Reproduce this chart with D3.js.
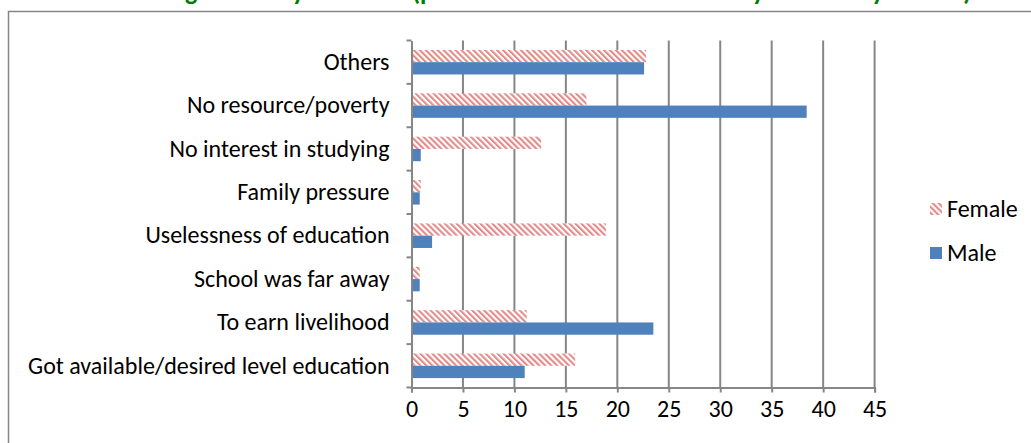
<!DOCTYPE html>
<html>
<head>
<meta charset="utf-8">
<script src="https://cdn.jsdelivr.net/npm/d3@7"></script>
<style>
  html, body { margin: 0; padding: 0; background: #fff; overflow: hidden; }
  svg { display: block; }
  text { font-family: Carlito, Calibri, Lato, "Open Sans", sans-serif; fill: #000; }
</style>
</head>
<body>
<svg id="chart" width="1031" height="443"></svg>
<script>
// Reasons for leaving school, by sex (percent)
const categories = [
  "Others",
  "No resource/poverty",
  "No interest in studying",
  "Family pressure",
  "Uselessness of education",
  "School was far away",
  "To earn livelihood",
  "Got available/desired level education"
];
const femaleValues = [22.8, 17.0, 12.6, 0.9, 18.9, 0.8, 11.2, 15.9];
const maleValues   = [22.6, 38.4, 0.9, 0.8, 2.0, 0.8, 23.5, 11.0];
const seriesNames = ["Female", "Male"];
const xTicks = [0, 5, 10, 15, 20, 25, 30, 35, 40, 45];
const titleText = "Discontinuing the study in school (percent of all who left school by sex and by reason)";

const W = 1031, H = 443;
const margin = { left: 411.5, right: W - 874.6, top: 40.5, bottom: H - 387.5 };
const labelSize = "24px";

const svg = d3.select("#chart");
const gridColor = "#868686";

// pattern for the female series: red downward diagonal stripes
const defs = svg.append("defs");
const pat = defs.append("pattern")
  .attr("id", "femaleHatch")
  .attr("patternUnits", "userSpaceOnUse")
  .attr("width", 4.2).attr("height", 4.2)
  .attr("patternTransform", "rotate(-45)");
pat.append("rect").attr("width", 4.2).attr("height", 4.2).attr("fill", "#ffffff");
pat.append("rect").attr("x", 0).attr("y", 0).attr("width", 2.1).attr("height", 4.2).attr("fill", "#e28b8a");

// title (runs above the top of the page)
svg.append("text")
  .attr("x", 50).attr("y", 0)
  .style("font-size", "26px").style("font-weight", "bold").style("fill", "#007d00")
  .text(titleText);

// outer chart frame
svg.append("rect")
  .attr("x", 8.5).attr("y", 11.5)
  .attr("width", W + 20).attr("height", H + 20)
  .attr("fill", "none").attr("stroke", gridColor).attr("stroke-width", 1.5);

const x = d3.scaleLinear().domain([0, 45]).range([margin.left, W - margin.right]);
const y = d3.scaleBand().domain(categories).range([margin.top, H - margin.bottom]).paddingInner(0).paddingOuter(0);
const bandH = y.bandwidth();
const barH = bandH * 0.283;
const groupH = barH * 2;

// vertical gridlines
svg.append("g").selectAll("line")
  .data(xTicks.filter(d => d > 0))
  .join("line")
  .attr("x1", d => x(d)).attr("x2", d => x(d))
  .attr("y1", margin.top).attr("y2", H - margin.bottom)
  .attr("stroke", gridColor).attr("stroke-width", 2);

// bars
const rows = categories.map((c, i) => ({ cat: c, female: femaleValues[i], male: maleValues[i] }));
const barG = svg.append("g");
barG.selectAll("rect.female")
  .data(rows).join("rect")
  .attr("class", "female")
  .attr("x", x(0))
  .attr("y", d => y(d.cat) + (bandH - groupH) / 2)
  .attr("width", d => x(d.female) - x(0))
  .attr("height", barH)
  .attr("fill", "url(#femaleHatch)");
barG.selectAll("rect.male")
  .data(rows).join("rect")
  .attr("class", "male")
  .attr("x", x(0))
  .attr("y", d => y(d.cat) + (bandH - groupH) / 2 + barH)
  .attr("width", d => x(d.male) - x(0))
  .attr("height", barH)
  .attr("fill", "#4f81bd");

// x axis
const xAxis = svg.append("g")
  .attr("transform", `translate(0,${H - margin.bottom})`)
  .call(d3.axisBottom(x).tickValues(xTicks).tickSize(5).tickPadding(7));
xAxis.select(".domain").attr("stroke", gridColor).attr("stroke-width", 2);
xAxis.selectAll(".tick line").attr("stroke", gridColor).attr("stroke-width", 2);
xAxis.selectAll(".tick text").style("font-size", labelSize).style("font-family", null);

// y axis
const yAxis = svg.append("g")
  .attr("transform", `translate(${margin.left},0)`)
  .call(d3.axisLeft(y).tickSize(0).tickPadding(22));
yAxis.select(".domain").attr("stroke", gridColor).attr("stroke-width", 2);
yAxis.selectAll(".tick text").style("font-size", labelSize).style("font-family", null);
// band boundary ticks
const bounds = categories.map(c => y(c)).concat([H - margin.bottom]);
yAxis.append("g").selectAll("line")
  .data(bounds).join("line")
  .attr("x1", -5).attr("x2", 0)
  .attr("y1", d => d).attr("y2", d => d)
  .attr("stroke", gridColor).attr("stroke-width", 2);

// legend
const legend = svg.append("g").attr("transform", "translate(930,0)");
const legendRows = [
  { name: seriesNames[0], fill: "url(#femaleHatch)", cy: 209 },
  { name: seriesNames[1], fill: "#4f81bd", cy: 253 }
];
legend.selectAll("rect").data(legendRows).join("rect")
  .attr("x", 0).attr("y", d => d.cy - 6)
  .attr("width", 12).attr("height", 12)
  .attr("fill", d => d.fill);
legend.selectAll("text").data(legendRows).join("text")
  .attr("x", 17).attr("y", d => d.cy)
  .attr("dy", "0.35em")
  .style("font-size", labelSize)
  .text(d => d.name);
</script>
</body>
</html>
